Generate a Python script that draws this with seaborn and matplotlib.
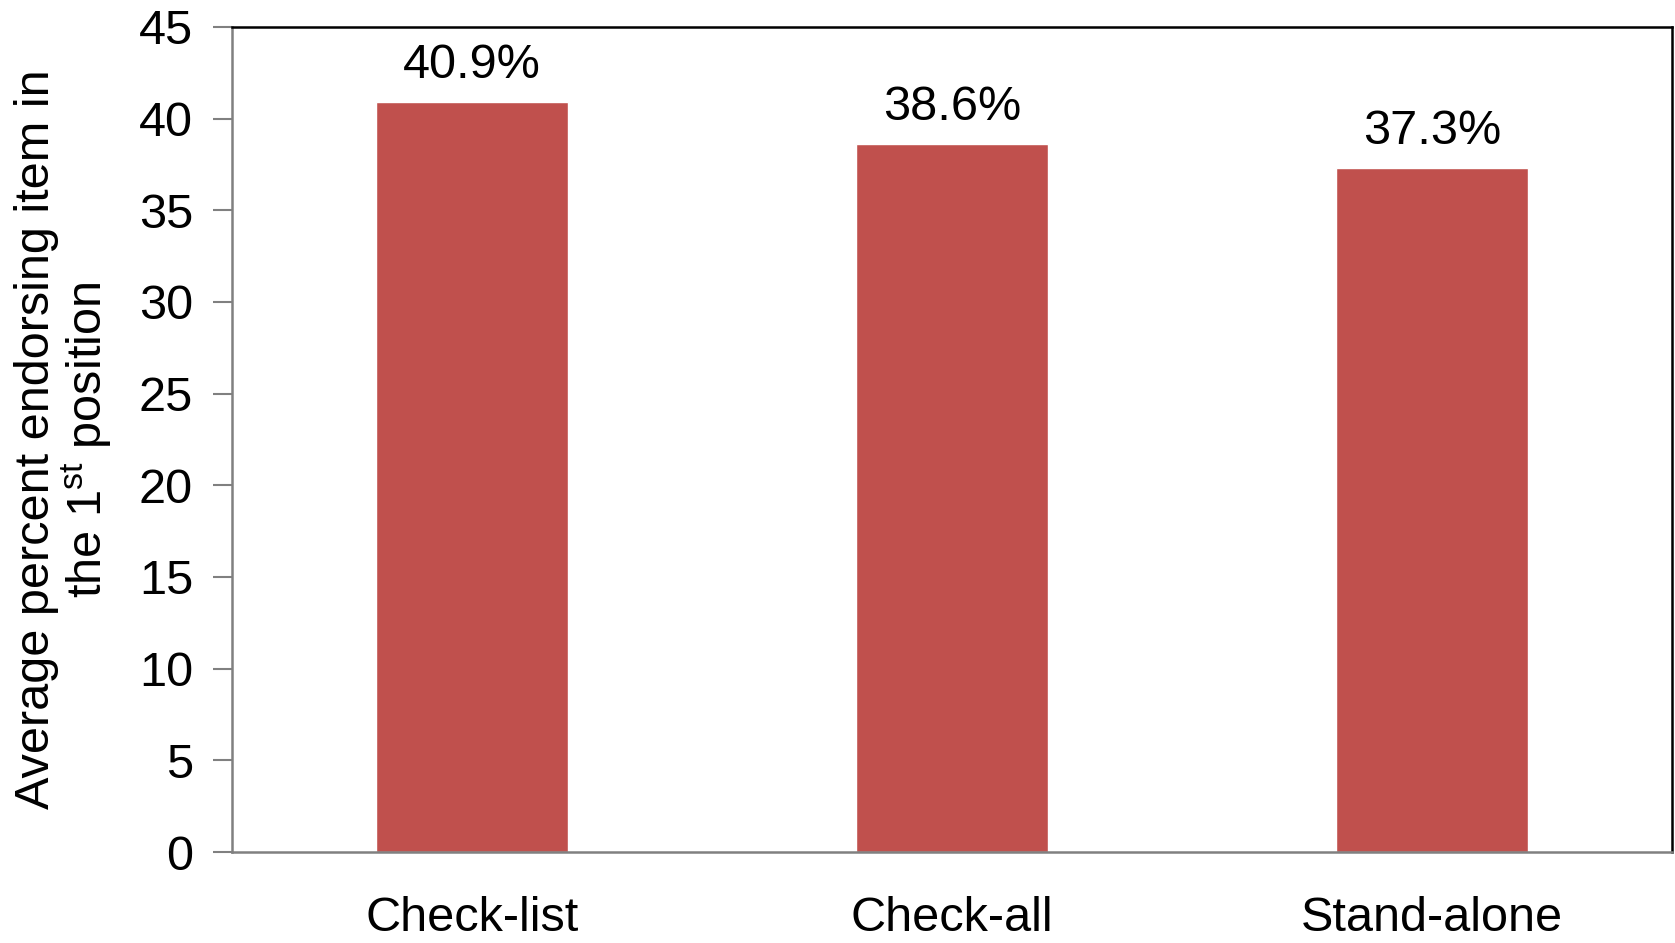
import seaborn as sns
import matplotlib.pyplot as plt
import pandas as pd

formats = ["Check-list", "Check-all", "Stand-alone"]
percent = [40.9, 38.6, 37.3]
yticks = [0, 5, 10, 15, 20, 25, 30, 35, 40, 45]

df = pd.DataFrame({"format": formats, "percent": percent})

sns.set_style("white")
plt.rcParams["font.family"] = ["Liberation Sans", "DejaVu Sans"]
plt.rcParams["mathtext.default"] = "regular"
plt.rcParams["text.color"] = "black"
plt.rcParams["axes.labelcolor"] = "black"
plt.rcParams["xtick.color"] = "black"
plt.rcParams["ytick.color"] = "black"

fig = plt.figure(figsize=(16.75, 9.43), dpi=100)
ax = fig.add_axes([232 / 1675, 1 - 852 / 943, 1440 / 1675, 825 / 943])

sns.barplot(data=df, x="format", y="percent", color="#C0504D", width=0.4,
            saturation=1, ax=ax)

# value labels above bars
for i, v in enumerate(percent):
    ax.annotate(f"{v}%", (i, v), xytext=(0, 10), textcoords="offset points",
                ha="center", va="bottom", fontsize=35, color="black")

ax.set_xlim(-0.5, 2.5)
ax.set_ylim(0, 45)
ax.set_yticks(yticks)
ax.tick_params(axis="y", labelsize=35, length=14, width=1.5, color="#808080",
               labelcolor="black", direction="out", left=True, pad=14)
ax.tick_params(axis="x", labelsize=35, length=0, pad=32, labelcolor="black")
ax.set_xlabel("")
ax.set_ylabel("Average percent endorsing item in\nthe 1$^{st}$ position",
              fontsize=35, labelpad=18, linespacing=1.0, color="black")

for side in ["left", "bottom"]:
    ax.spines[side].set_color("#808080")
    ax.spines[side].set_linewidth(1.8)
for side in ["top", "right"]:
    ax.spines[side].set_color("black")
    ax.spines[side].set_linewidth(1.8)

fig.savefig("out.png", dpi=100)
